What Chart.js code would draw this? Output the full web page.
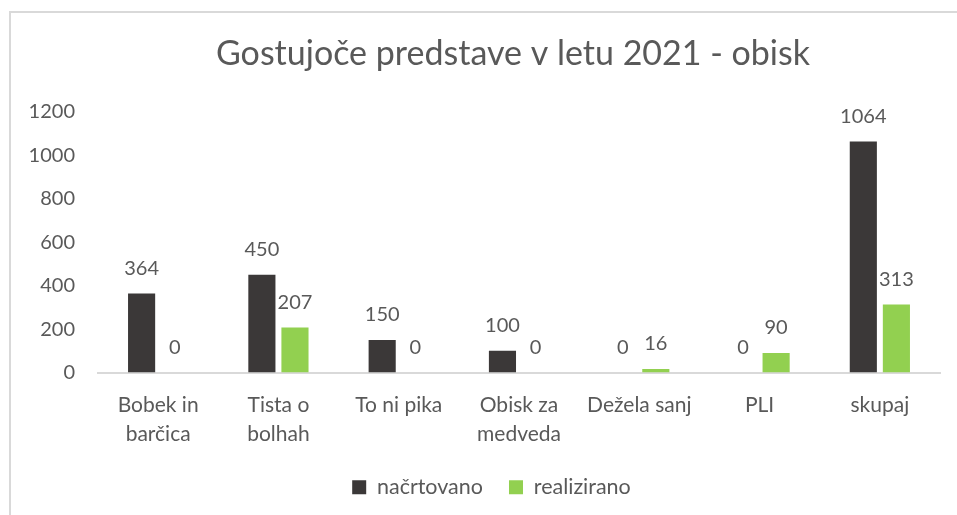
<!DOCTYPE html>
<html>
<head>
<meta charset="utf-8">
<script src="https://cdn.jsdelivr.net/npm/chart.js@4/dist/chart.umd.min.js"></script>
<style>
	body { margin: 0; background: #fff; }
	#wrap { position: relative; width: 957px; height: 515px; overflow: hidden; }
	#frame { position: absolute; left: 9px; top: 11px; width: 1000px; height: 600px; border-left: 2px solid #D9D9D9; border-top: 2px solid #D9D9D9; }
	#myChart { position: absolute; left: 0; top: 0; }
</style>
</head>
<body>
<div id="wrap">
	<div id="frame"></div>
	<canvas id="myChart" width="957" height="515"></canvas>
</div>
<script>
var chartTitle = 'Gostujoče predstave v letu 2021 - obisk';
var labels = [['Bobek in', 'barčica'], ['Tista o', 'bolhah'], 'To ni pika', ['Obisk za', 'medveda'], 'Dežela sanj', 'PLI', 'skupaj'];
var seriesNames = ['načrtovano', 'realizirano'];
var planned = [364, 450, 150, 100, 0, 0, 1064];
var realized = [0, 207, 0, 0, 16, 90, 313];
var yMin = 0;
var yMax = 1200;
var yStep = 200;

var textColor = '#595959';
var font = 'Lato';

// value labels above each bar
var valueLabels = {
	id: 'valueLabels',
	afterDatasetsDraw: function(chart) {
		var ctx = chart.ctx;
		ctx.save();
		ctx.font = '20px ' + font;
		ctx.fillStyle = textColor;
		ctx.textAlign = 'center';
		ctx.textBaseline = 'middle';
		chart.data.datasets.forEach(function(ds, i) {
			var meta = chart.getDatasetMeta(i);
			meta.data.forEach(function(bar, j) {
				ctx.fillText(ds.data[j], bar.x, bar.y - 25);
			});
		});
		ctx.restore();
	}
};

// title sits a bit right of the legend centre, like in excel
var titlePlugin = {
	id: 'titlePlugin',
	afterDraw: function(chart) {
		var ctx = chart.ctx;
		ctx.save();
		ctx.font = '34px ' + font;
		ctx.fillStyle = textColor;
		ctx.textAlign = 'center';
		ctx.textBaseline = 'middle';
		ctx.fillText(chartTitle, 513, 54);
		ctx.restore();
	}
};

var ctx = document.getElementById('myChart').getContext('2d');
var chart = new Chart(ctx, {
	type: 'bar',
	data: {
		labels: labels,
		datasets: [{
			label: seriesNames[0],
			data: planned,
			backgroundColor: '#3B3838',
			categoryPercentage: 0.55,
			barPercentage: 0.82
		}, {
			label: seriesNames[1],
			data: realized,
			backgroundColor: '#92D050',
			categoryPercentage: 0.55,
			barPercentage: 0.82
		}]
	},
	options: {
		responsive: false,
		animation: false,
		layout: { padding: { left: 26, right: 0, top: 112, bottom: 7 } },
		plugins: {
			title: { display: false },
			legend: {
				position: 'bottom',
				labels: {
					color: textColor,
					font: { family: font, size: 21.5 },
					boxWidth: 14,
					boxHeight: 14,
					padding: 26
				}
			},
			tooltip: { enabled: false }
		},
		scales: {
			x: {
				grid: { display: false, drawTicks: false },
				border: { display: true, color: '#D9D9D9', width: 2 },
				ticks: {
					color: textColor,
					font: { family: font, size: 21, lineHeight: 1.4 },
					padding: 18,
					maxRotation: 0,
					autoSkip: false
				},
				afterFit: function(scale) { scale.height = 78; }
			},
			y: {
				min: yMin,
				max: yMax,
				grid: { display: false, drawTicks: false },
				border: { display: false },
				ticks: {
					stepSize: yStep,
					color: textColor,
					font: { family: font, size: 20 },
					padding: 23,
					callback: function(v) { return String(v); }
				},
				afterFit: function(scale) { scale.width = 72; }
			},
			// empty right axis, only keeps the plot off the right edge
			y2: {
				type: 'linear',
				position: 'right',
				min: yMin,
				max: yMax,
				grid: { display: false, drawTicks: false },
				border: { display: false },
				ticks: { display: false },
				afterFit: function(scale) { scale.width = 17; }
			}
		}
	},
	plugins: [valueLabels, titlePlugin]
});
</script>
</body>
</html>
